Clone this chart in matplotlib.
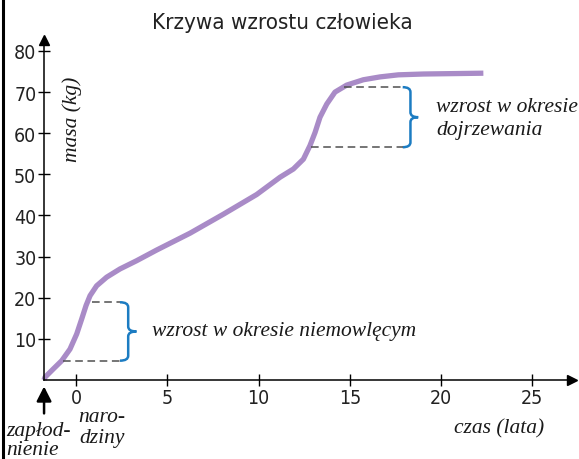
import matplotlib
matplotlib.use("Agg")
from matplotlib import pyplot as plt
from matplotlib.path import Path
from matplotlib.patches import PathPatch
from matplotlib.lines import Line2D

# growth curve (age in years, mass in kg)
age = [-1.75, -1.70, -1.24, -0.78, -0.33, 0.04, 0.31, 0.55, 0.77, 1.13,
       1.68, 2.41, 3.32, 4.42, 6.25, 8.07, 9.90, 11.18, 11.91, 12.46,
       12.82, 13.10, 13.37, 13.74, 14.19, 14.83, 15.74, 16.66, 17.66,
       19.03, 22.32]
mass = [0.0, 0.66, 2.7, 4.7, 7.5, 11.2, 14.8, 18.1, 20.5, 22.9,
        25.0, 27.0, 29.0, 31.6, 35.7, 40.3, 45.1, 49.3, 51.3, 53.7,
        57.0, 60.2, 63.9, 67.1, 70.0, 71.7, 73.0, 73.7, 74.2,
        74.4, 74.6]

x_ticks = [0, 5, 10, 15, 20, 25]
y_ticks = [10, 20, 30, 40, 50, 60, 70, 80]

# infant growth spurt
infant_low = (-0.69, 4.7)
infant_high = (0.86, 18.9)
# puberty growth spurt
puberty_low = (12.9, 56.6)
puberty_high = (14.7, 71.2)

purple = "#A98BC7"
blue = "#1C7CC2"
dash_col = "#505050"
serif = "Liberation Serif"
cond = dict(family="DejaVu Sans", stretch="condensed")

fig = plt.figure(figsize=(5.79, 4.60), dpi=100)
ax = fig.add_axes([0, 0, 1, 1])
ax.set_xlim(-4.164, 27.56)
ax.set_ylim(-19.21, 92.64)
ax.patch.set_visible(False)

y_axis_x = -1.75
ax.spines["top"].set_visible(False)
ax.spines["right"].set_visible(False)
ax.spines["left"].set_position(("data", y_axis_x))
ax.spines["bottom"].set_position(("data", 0))
ax.spines["left"].set_bounds(0, 82)
ax.spines["bottom"].set_bounds(y_axis_x, 27)
for s in ["left", "bottom"]:
    ax.spines[s].set_linewidth(1.1)
ax.plot([27.15], [0], marker=">", color="k", ms=7, clip_on=False)
ax.plot([y_axis_x], [82.6], marker="^", color="k", ms=7, clip_on=False)

ax.set_xticks(x_ticks)
ax.set_yticks(y_ticks)
ax.tick_params(direction="inout", length=9, width=1, pad=1)
for lab in ax.get_xticklabels() + ax.get_yticklabels():
    lab.set_fontfamily(cond["family"])
    lab.set_fontstretch(cond["stretch"])
    lab.set_fontsize(14)
    lab.set_color("#222222")

# growth curve
ax.plot(age, mass, color=purple, lw=3.8, solid_capstyle="butt", solid_joinstyle="round")


def brace(x, y0, y1, w, r):
    ym = (y0 + y1) / 2
    xm = x + w / 2
    verts = [(x, y1), (xm, y1), (xm, y1 - r),
             (xm, ym + r), (xm, ym), (x + w, ym),
             (xm, ym), (xm, ym - r),
             (xm, y0 + r), (xm, y0), (x, y0)]
    codes = [Path.MOVETO, Path.CURVE3, Path.CURVE3,
             Path.LINETO, Path.CURVE3, Path.CURVE3,
             Path.CURVE3, Path.CURVE3,
             Path.LINETO, Path.CURVE3, Path.CURVE3]
    ax.add_patch(PathPatch(Path(verts, codes), fill=False, ec=blue, lw=1.8))


dash_end1 = 2.41
ax.plot([infant_low[0], dash_end1], [infant_low[1]] * 2, ls=(0, (5, 3)), color=dash_col, lw=1.1)
ax.plot([infant_high[0], dash_end1], [infant_high[1]] * 2, ls=(0, (5, 3)), color=dash_col, lw=1.1)
brace(dash_end1, infant_low[1], infant_high[1], 0.9, 1.2)

dash_end2 = 17.9
ax.plot([puberty_low[0], dash_end2], [puberty_low[1]] * 2, ls=(0, (5, 3)), color=dash_col, lw=1.1)
ax.plot([puberty_high[0], dash_end2], [puberty_high[1]] * 2, ls=(0, (5, 3)), color=dash_col, lw=1.1)
brace(dash_end2, puberty_low[1], puberty_high[1], 0.85, 1.2)

ital = dict(family=serif, style="italic", color="#1a1a1a", fontsize=15.5)
ax.text(4.15, 12.0, "wzrost w okresie niemowlęcym", va="center", **ital)
ax.text(19.75, 66.5, "wzrost w okresie", va="center", **ital)
ax.text(19.75, 60.9, "dojrzewania", va="center", **ital)
ax.text(-0.2, 63.5, "masa (kg)", rotation=90, ha="center", va="center", **ital)
ax.text(23.2, -11.6, "czas (lata)", ha="center", va="center", **ital)
ax.text(-3.8, -12.4, "zapłod-", ha="left", va="center", **ital)
ax.text(-3.8, -16.9, "nienie", ha="left", va="center", **ital)
ax.text(0.1, -8.9, "naro-", ha="left", va="center", **ital)
ax.text(0.2, -14.0, "dziny", ha="left", va="center", **ital)

# arrow marking conception
ax.annotate("", xy=(y_axis_x, -0.9), xytext=(y_axis_x, -8.8),
            arrowprops=dict(arrowstyle="-|>,head_length=0.55,head_width=0.28",
                            color="k", lw=1.8, mutation_scale=16),
            annotation_clip=False)

fig.text(0.488, 0.95, "Krzywa wzrostu człowieka", fontsize=16,
         ha="center", va="center", color="#222222", **cond)
fig.add_artist(Line2D([0.006, 0.006], [0, 1], color="k", lw=2.2, transform=fig.transFigure))

fig.savefig("out.png", dpi=100)
